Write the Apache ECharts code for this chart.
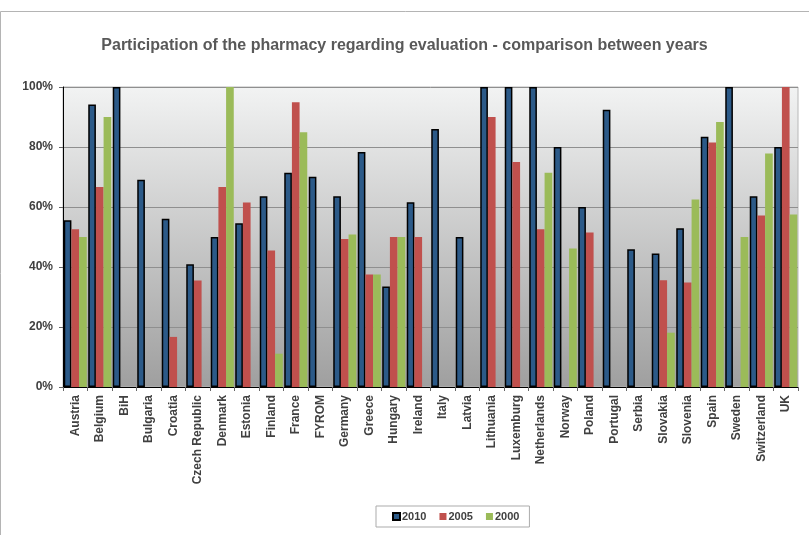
<!DOCTYPE html>
<html>
<head>
<meta charset="utf-8">
<script src="https://cdn.jsdelivr.net/npm/echarts@6/dist/echarts.min.js"></script>
<style>
html,body{margin:0;padding:0;background:#fff;}
#chart{width:809px;height:535px;}
</style>
</head>
<body>
<div id="chart"></div>
<script>
const categories = ['Austria','Belgium','BiH','Bulgaria','Croatia','Czech Republic','Denmark','Estonia','Finland','France','FYROM','Germany','Greece','Hungary','Ireland','Italy','Latvia','Lithuania','Luxemburg','Netherlands','Norway','Poland','Portugal','Serbia','Slovakia','Slovenia','Spain','Sweden','Switzerland','UK'];
const values2010 = [55.6, 94.2, 100, 69.1, 56.1, 40.9, 50, 54.6, 63.6, 71.4, 70.1, 63.6, 78.3, 33.5, 61.6, 86, 50, 100, 100, 100, 80, 60, 92.4, 45.9, 44.5, 52.9, 83.4, 100, 63.6, 80];
const values2005 = [52.6, 66.7, null, null, 16.7, 35.5, 66.7, 61.5, 45.5, 94.9, null, 49.3, 37.5, 50, 50, null, null, 90, 75, 52.6, null, 51.5, null, null, 35.6, 34.8, 81.5, null, 57.2, 100];
const values2000 = [50, 90, null, null, null, null, 100, null, 11.1, 84.9, null, 50.8, 37.5, 50, null, null, null, null, null, 71.4, 46.2, null, null, null, 18.1, 62.5, 88.3, 50, 77.8, 57.5];
const yTicks = [0, 20, 40, 60, 80, 100];

const chart = echarts.init(document.getElementById('chart'));
const font = 'Liberation Sans, Arial, sans-serif';
chart.setOption({
  animation: false,
  backgroundColor: '#ffffff',
  graphic: [{
    type: 'rect', z: -10, silent: true,
    shape: {x: 0.5, y: 11.5, width: 900, height: 600},
    style: {fill: 'none', stroke: '#b4b4b4', lineWidth: 1}
  }],
  title: {
    text: 'Participation of the pharmacy regarding evaluation - comparison between years',
    left: 'center', top: 33,
    textStyle: {fontFamily: font, fontSize: 16, fontWeight: 'bold', color: '#595959'}
  },
  legend: {
    data: ['2010', '2005', '2000'],
    left: 376, top: 506,
    borderColor: '#ababab', borderWidth: 1,
    padding: [5, 10, 5, 16],
    itemGap: 13, itemWidth: 7, itemHeight: 7,
    icon: 'rect',
    textStyle: {fontFamily: font, fontSize: 11, fontWeight: 'bold', color: '#404040', padding: [0, 0, 0, -3]}
  },
  grid: {
    left: 63, top: 87, right: 11, bottom: 148,
    show: true,
    borderColor: '#b8b8b8', borderWidth: 1,
    backgroundColor: new echarts.graphic.LinearGradient(0, 0, 0, 1, [
      {offset: 0, color: '#f2f3f3'},
      {offset: 1, color: '#9f9f9f'}
    ])
  },
  xAxis: {
    type: 'category',
    data: categories,
    axisLine: {lineStyle: {color: '#000', width: 1}},
    axisTick: {show: true, length: 4, lineStyle: {color: '#666'}},
    axisLabel: {
      rotate: 90, interval: 0, margin: 8,
      fontFamily: font, fontSize: 12, fontWeight: 'bold', color: '#404040'
    }
  },
  yAxis: {
    type: 'value', min: 0, max: 100, interval: 20,
    axisLine: {show: true, lineStyle: {color: '#000', width: 1}},
    axisTick: {show: true, length: 4, lineStyle: {color: '#666'}},
    splitLine: {lineStyle: {color: '#8f8f8f', width: 1}},
    axisLabel: {
      formatter: v => yTicks.includes(v) ? v + '%' : '',
      margin: 10,
      fontFamily: font, fontSize: 12, fontWeight: 'bold', color: '#404040'
    }
  },
  series: [
    {name: '2010', type: 'bar', data: values2010, barGap: '0%', barCategoryGap: '6%',
     itemStyle: {color: '#2c5a88', borderColor: '#000', borderWidth: 1.5}},
    {name: '2005', type: 'bar', data: values2005, barGap: '0%', barCategoryGap: '6%',
     itemStyle: {color: '#c0504d'}},
    {name: '2000', type: 'bar', data: values2000, barGap: '0%', barCategoryGap: '6%',
     itemStyle: {color: '#9bbb59'}}
  ]
});
</script>
</body>
</html>
